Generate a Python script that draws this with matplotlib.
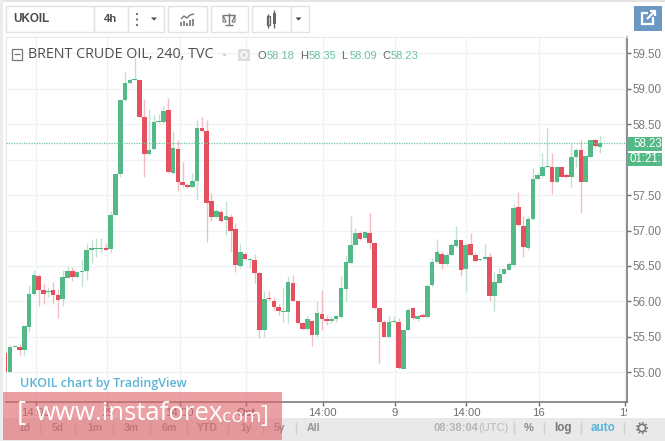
import matplotlib
matplotlib.use("Agg")
import matplotlib.pyplot as plt
from matplotlib.patches import Rectangle, Circle, Polygon
from matplotlib.transforms import Bbox

plt.rcParams['font.family'] = ['Liberation Sans', 'DejaVu Sans']

opens = [55.27,55.00,55.36,55.36,55.31,55.64,56.10,56.36,56.16,56.13,56.16,56.09,56.04,56.33,56.43,56.35,56.41,56.43,56.73,56.74,56.74,56.76,56.74,57.22,57.80,58.84,59.08,59.12,59.12,58.60,58.08,58.15,58.53,58.53,
 58.70,57.81,58.15,57.68,57.64,57.62,57.70,58.44,58.41,57.41,57.19,57.26,57.15,57.19,57.02,56.50,56.67,56.59,56.58,56.40,55.60,56.05,56.00,55.92,55.85,55.85,56.26,56.00,55.70,55.61,55.72,55.52,55.82,55.75,
 55.72,55.75,55.78,56.18,56.54,56.80,56.96,56.89,56.97,56.82,55.90,55.71,55.50,55.71,55.71,55.05,55.60,55.90,55.75,55.81,55.78,56.23,56.55,56.67,56.53,56.66,56.78,56.86,56.46,56.81,56.66,56.58,56.60,
 56.63,56.07,56.26,56.39,56.45,56.51,57.33,57.07,56.75,57.16,57.73,57.77,57.89,57.89,57.69,57.89,57.78,57.76,58.04,58.14,57.69,58.04,58.28,58.18]
highs = [55.27,55.39,55.39,55.40,55.67,56.23,56.45,56.39,56.25,56.21,56.28,56.17,56.44,56.50,56.48,56.43,56.60,56.83,56.86,56.89,56.90,56.83,57.28,57.81,58.85,59.23,59.15,59.45,59.13,58.86,58.71,58.63,58.65,58.75,
 58.87,58.40,58.28,57.97,57.67,57.81,58.56,58.60,58.56,57.53,57.31,57.29,57.41,57.24,57.10,56.81,56.70,56.61,56.67,56.42,56.15,56.14,56.06,55.97,56.21,56.36,56.37,56.02,55.71,55.79,55.74,56.01,56.16,55.81,
 55.79,55.81,56.36,56.66,57.21,57.04,56.99,57.00,57.25,56.83,55.91,55.74,55.79,55.79,55.77,55.60,55.91,55.92,55.81,55.83,56.24,56.61,56.88,56.71,56.68,56.82,57.07,56.88,56.82,56.96,56.68,56.60,56.81,
 56.68,56.42,56.47,56.47,56.56,57.38,57.55,57.20,57.21,57.88,57.83,58.09,58.44,58.09,57.90,57.90,57.81,58.22,58.16,58.28,58.07,58.28,58.29,58.35]
lows = [55.00,55.00,55.35,55.25,55.25,55.57,56.09,55.94,55.97,56.06,55.96,55.76,55.94,56.33,56.29,56.33,56.21,56.30,56.54,56.63,56.68,56.72,56.68,57.22,57.75,58.83,59.07,59.12,58.60,57.76,58.07,58.14,58.51,58.52,
 57.81,57.80,57.56,57.62,57.60,57.61,57.43,58.40,56.84,57.13,57.18,57.12,56.94,56.70,56.42,56.47,56.59,56.47,56.26,55.48,55.50,56.02,55.88,55.81,55.71,55.69,56.00,55.68,55.60,55.60,55.37,55.50,55.60,55.66,
 55.69,55.71,55.77,56.00,56.53,56.80,56.87,56.88,56.74,55.89,55.13,55.50,55.48,55.70,55.05,55.04,55.59,55.74,55.73,55.78,55.77,56.21,56.54,56.46,56.51,56.65,56.77,56.36,56.14,56.65,56.56,56.57,56.59,
 56.01,55.86,56.24,56.38,56.45,56.50,57.06,56.63,56.72,57.15,57.72,57.76,57.88,57.52,57.68,57.75,57.74,57.61,57.90,57.25,57.68,58.03,58.18,58.09]
closes = [55.00,55.36,55.37,55.31,55.65,56.10,56.37,56.16,56.11,56.14,56.09,56.02,56.35,56.43,56.35,56.41,56.43,56.73,56.75,56.75,56.75,56.73,57.22,57.80,58.84,59.08,59.12,59.13,58.60,58.08,58.14,58.53,58.54,58.68,
 57.82,58.16,57.68,57.64,57.61,57.70,58.44,58.41,57.39,57.19,57.27,57.14,57.21,57.00,56.52,56.69,56.60,56.60,56.40,55.59,56.04,56.03,55.92,55.86,55.86,56.27,56.01,55.70,55.61,55.75,55.52,55.84,55.75,55.73,
 55.75,55.79,56.19,56.56,56.80,56.96,56.88,56.98,56.83,55.91,55.71,55.50,55.71,55.72,55.06,55.59,55.88,55.76,55.79,55.78,56.22,56.55,56.69,56.53,56.66,56.79,56.87,56.44,56.80,56.66,56.57,56.60,56.62,
 56.08,56.27,56.39,56.46,56.53,57.32,57.08,56.77,57.16,57.73,57.79,57.90,57.90,57.68,57.89,57.76,57.75,58.04,58.14,57.69,58.05,58.27,58.19,58.23]

price_ticks = [55.0,55.5,56.0,56.5,57.0,57.5,58.0,58.5,59.0,59.5]
time_ticks = [6.4,21.3,36.4,50.3,66.2,81.2,96.1,111.2,129.2]
time_labels = ['14:00','25','14:00','Oct','14:00','9','14:00','16','19']
last_price = 58.23

GREEN, RED = '#53b987', '#e5505f'
GREEN_W, RED_W = '#bfe3d0', '#f5bcc1'
W, H = 665, 441
fig = plt.figure(figsize=(6.65, 4.41), dpi=100, facecolor='white')
L, R, T, B = 6, 626.7, 37, 401.7
ax = fig.add_axes([L/W, 1-B/H, (R-L)/W, (B-T)/H])
ax.set_xlim(0.17, 129.56)
ax.set_ylim(54.585, 59.73)
ax.set_axisbelow(True)
ax.grid(True, color='#eff3f8', lw=1)
for s in ('top', 'left'):
    ax.spines[s].set_color('#e6e8ec')
for s in ('right', 'bottom'):
    ax.spines[s].set_color('#6f6f6f')
    ax.spines[s].set_linewidth(1.1)
ax.yaxis.tick_right()
ax.set_yticks(price_ticks)
ax.set_yticklabels([f'{p:.2f}' for p in price_ticks], fontsize=8.3, color='#7b7b7b')
ax.set_xticks(time_ticks)
ax.set_xticklabels(time_labels, fontsize=8.2, color='#6e6e6e')
ax.tick_params(axis='y', length=3, width=1, color='#6f6f6f', pad=1.5)
ax.tick_params(axis='x', length=3, width=1, color='#6f6f6f', pad=1.8)
for lab, t in zip(ax.get_xticklabels(), time_labels):
    if t == 'Oct':
        lab.set_fontweight('bold')
ax.get_xticklabels()[-1].set_clip_box(Bbox([[0, 0], [627, H]]))
ax.get_xticklabels()[-1].set_clip_on(True)

xs = list(range(len(opens)))
for i in xs:
    up = closes[i] >= opens[i]
    ax.vlines(i, lows[i], highs[i], color=GREEN_W if up else RED_W, lw=1, zorder=2)
    lo, hi = min(opens[i], closes[i]), max(opens[i], closes[i])
    ax.bar(i, max(hi-lo, 0.015), bottom=lo, width=0.95, color=GREEN if up else RED, lw=0, zorder=3)
ax.axhline(last_price, color='#6cc79a', lw=0.9, ls=(0, (1, 1)), zorder=4)

ov = fig.add_axes([0, 0, 1, 1], facecolor='none')
ov.set_xlim(0, W); ov.set_ylim(H, 0); ov.axis('off')
def rect(x0, y0, x1, y1, **k):
    ov.add_patch(Rectangle((x0, y0), x1-x0, y1-y0, **k))
def box(x0, y0, x1, y1, ec='#e2e2e2'):
    rect(x0, y0, x1, y1, fc='white', ec=ec, lw=1)
def line(xs_, ys_, c='#666666', lw=1):
    ov.plot(xs_, ys_, color=c, lw=lw, solid_capstyle='butt')

# page edges
rect(0, 0, W, 1.5, fc='#e4e4e4', lw=0)
rect(0, 0, 3, H, fc='#ececec', lw=0)

# toolbar
box(6, 6, 94, 32); box(94, 6, 128, 32); box(128, 6, 164, 32)
box(168, 6, 207, 32); box(211, 6, 248, 32); box(252, 6, 309, 32)
line([291, 291], [6, 32], '#e2e2e2')
ov.text(13, 19.5, 'UKOIL', fontsize=8.4, fontweight='bold', color='#4a4a4a', va='center')
ov.text(111, 19, '4h', fontsize=8.2, fontweight='bold', color='#4a4a4a', va='center', ha='center')
for y in (14, 19.5, 25):
    ov.add_patch(Circle((137, y), 1.1, fc='#666666', lw=0))
for cx in (154, 298.5):
    ov.add_patch(Polygon([(cx-3, 17.5), (cx+3, 17.5), (cx, 20.5)], fc='#444444', lw=0))
line([181, 184, 187, 190, 194], [19, 16, 18, 15, 14], '#777777', 1)
for bx, by in zip([181, 184, 187, 190, 193], [22, 21, 23, 20, 19]):
    line([bx, bx], [by, 26], '#777777', 1.2)
line([229, 229], [13, 25], '#777777'); line([223, 235], [15, 15], '#777777'); line([225, 233], [25, 25], '#777777')
ov.add_patch(Polygon([(223, 15), (226, 22), (223, 22)], fc='none', ec='#777777', lw=0.8))
ov.add_patch(Polygon([(235, 15), (232, 22), (235, 22)], fc='none', ec='#777777', lw=0.8))
rect(266.5, 16, 269.5, 25, fc='white', ec='#666666', lw=0.9); line([268, 268], [14, 28])
rect(272.5, 13, 276, 24, fc='#666666', lw=0); line([274, 274], [10, 28])

# open-in-new button
rect(634, 6, 662, 31, fc='#6a9ac4', lw=0)
rect(642, 13, 653, 24, fc='none', ec='white', lw=1.6)
rect(648, 10, 656, 17, fc='#6a9ac4', lw=0)
line([647, 655], [19, 11], 'white', 1.6)
line([650, 655.5], [11, 11], 'white', 1.6); line([655, 655], [11, 16], 'white', 1.6)

# legend line
rect(11.5, 49, 22, 59.5, fc='white', ec='#777777', lw=0.9)
line([13.5, 20], [54.3, 54.3], '#777777', 0.9)
ov.text(28, 54.5, 'BRENT CRUDE OIL, 240, TVC', fontsize=10.3, family='Open Sans', color='#4f4f4f', va='center')
ov.add_patch(Polygon([(222, 54), (227, 54), (224.5, 56.5)], fc='#cccccc', lw=0))
rect(238, 49, 250, 61, fc='#dddddd', lw=0)
ov.add_patch(Circle((244, 55), 3, fc='#dddddd', ec='white', lw=1))
for lx, vx, l, v in [(257, 267, 'O', '58.18'), (300, 309, 'H', '58.35'), (341, 350, 'L', '58.09'), (382, 391, 'C', '58.23')]:
    ov.text(lx, 56, l, fontsize=8, color='#666666', va='center')
    ov.text(vx, 56, v, fontsize=8, color='#6fc39a', va='center')

# price tag
rect(627, 137, 662, 151, fc=GREEN, lw=0)
rect(627, 152.5, 662, 166, fc=GREEN, lw=0)
ov.text(633, 144, '58.23', fontsize=8.3, color='white', va='center')
t = ov.text(630, 159, '01:21:59', fontsize=8.3, color='white', va='center')
t.set_clip_box(Bbox([[627, 0], [661, H]])); t.set_clip_on(True)

ov.text(20, 384, 'UKOIL chart by TradingView', fontsize=9, color='#5bb4d4', va='center',
        family='Open Sans', fontweight='semibold')

# bottom bar
rect(3, 418, W, H, fc='#e9e9e9', lw=0)
for x, s in zip([24, 58, 95, 131, 169, 207, 246, 280, 314], ['1d', '5d', '1m', '3m', '6m', 'YTD', '1y', '5y', 'All']):
    ov.text(x, 428, s, fontsize=7.6, fontweight='bold', color='#959595', ha='center', va='center')
for x in (40, 75, 113, 150, 187, 228, 263, 296):
    line([x, x], [422, 434], '#cfcfcf')
ov.text(434, 428, '08:38:04', fontsize=8, color='#b5b5b5', va='center', fontweight='bold')
ov.text(478, 428, '(UTC)', fontsize=8, color='#bbbbbb', va='center')
ov.text(529, 428, '%', fontsize=8, color='#888888', ha='center', va='center', fontweight='bold')
ov.text(563, 428, 'log', fontsize=8.4, color='#777777', ha='center', va='center', fontweight='bold')
ov.text(603, 428, 'auto', fontsize=8.4, color='#5bb4d9', ha='center', va='center', fontweight='bold')
for x in (514, 544, 581, 624):
    line([x, x], [422, 434], '#cfcfcf')
ov.add_patch(Circle((642, 428), 3.6, fc='none', ec='#777777', lw=1.2))
ov.add_patch(Circle((642, 428), 5.2, fc='none', ec='#777777', lw=1.2, ls=(0, (1, 1.2))))

# watermark
rect(3, 392, 282, 440, fc='#e0666c', alpha=0.62, lw=0, zorder=5)
wm = dict(color='white', va='center', family='Open Sans', zorder=6)
ov.text(17, 414, '[', fontsize=20, **wm)
ov.text(36, 414, 'www.instaforex', fontsize=18.5, **wm)
ov.text(218, 416.5, '.com', fontsize=14, **wm)
ov.text(260, 416, ']', fontsize=17, **wm)

fig.savefig('out.png', dpi=100, facecolor='white')
